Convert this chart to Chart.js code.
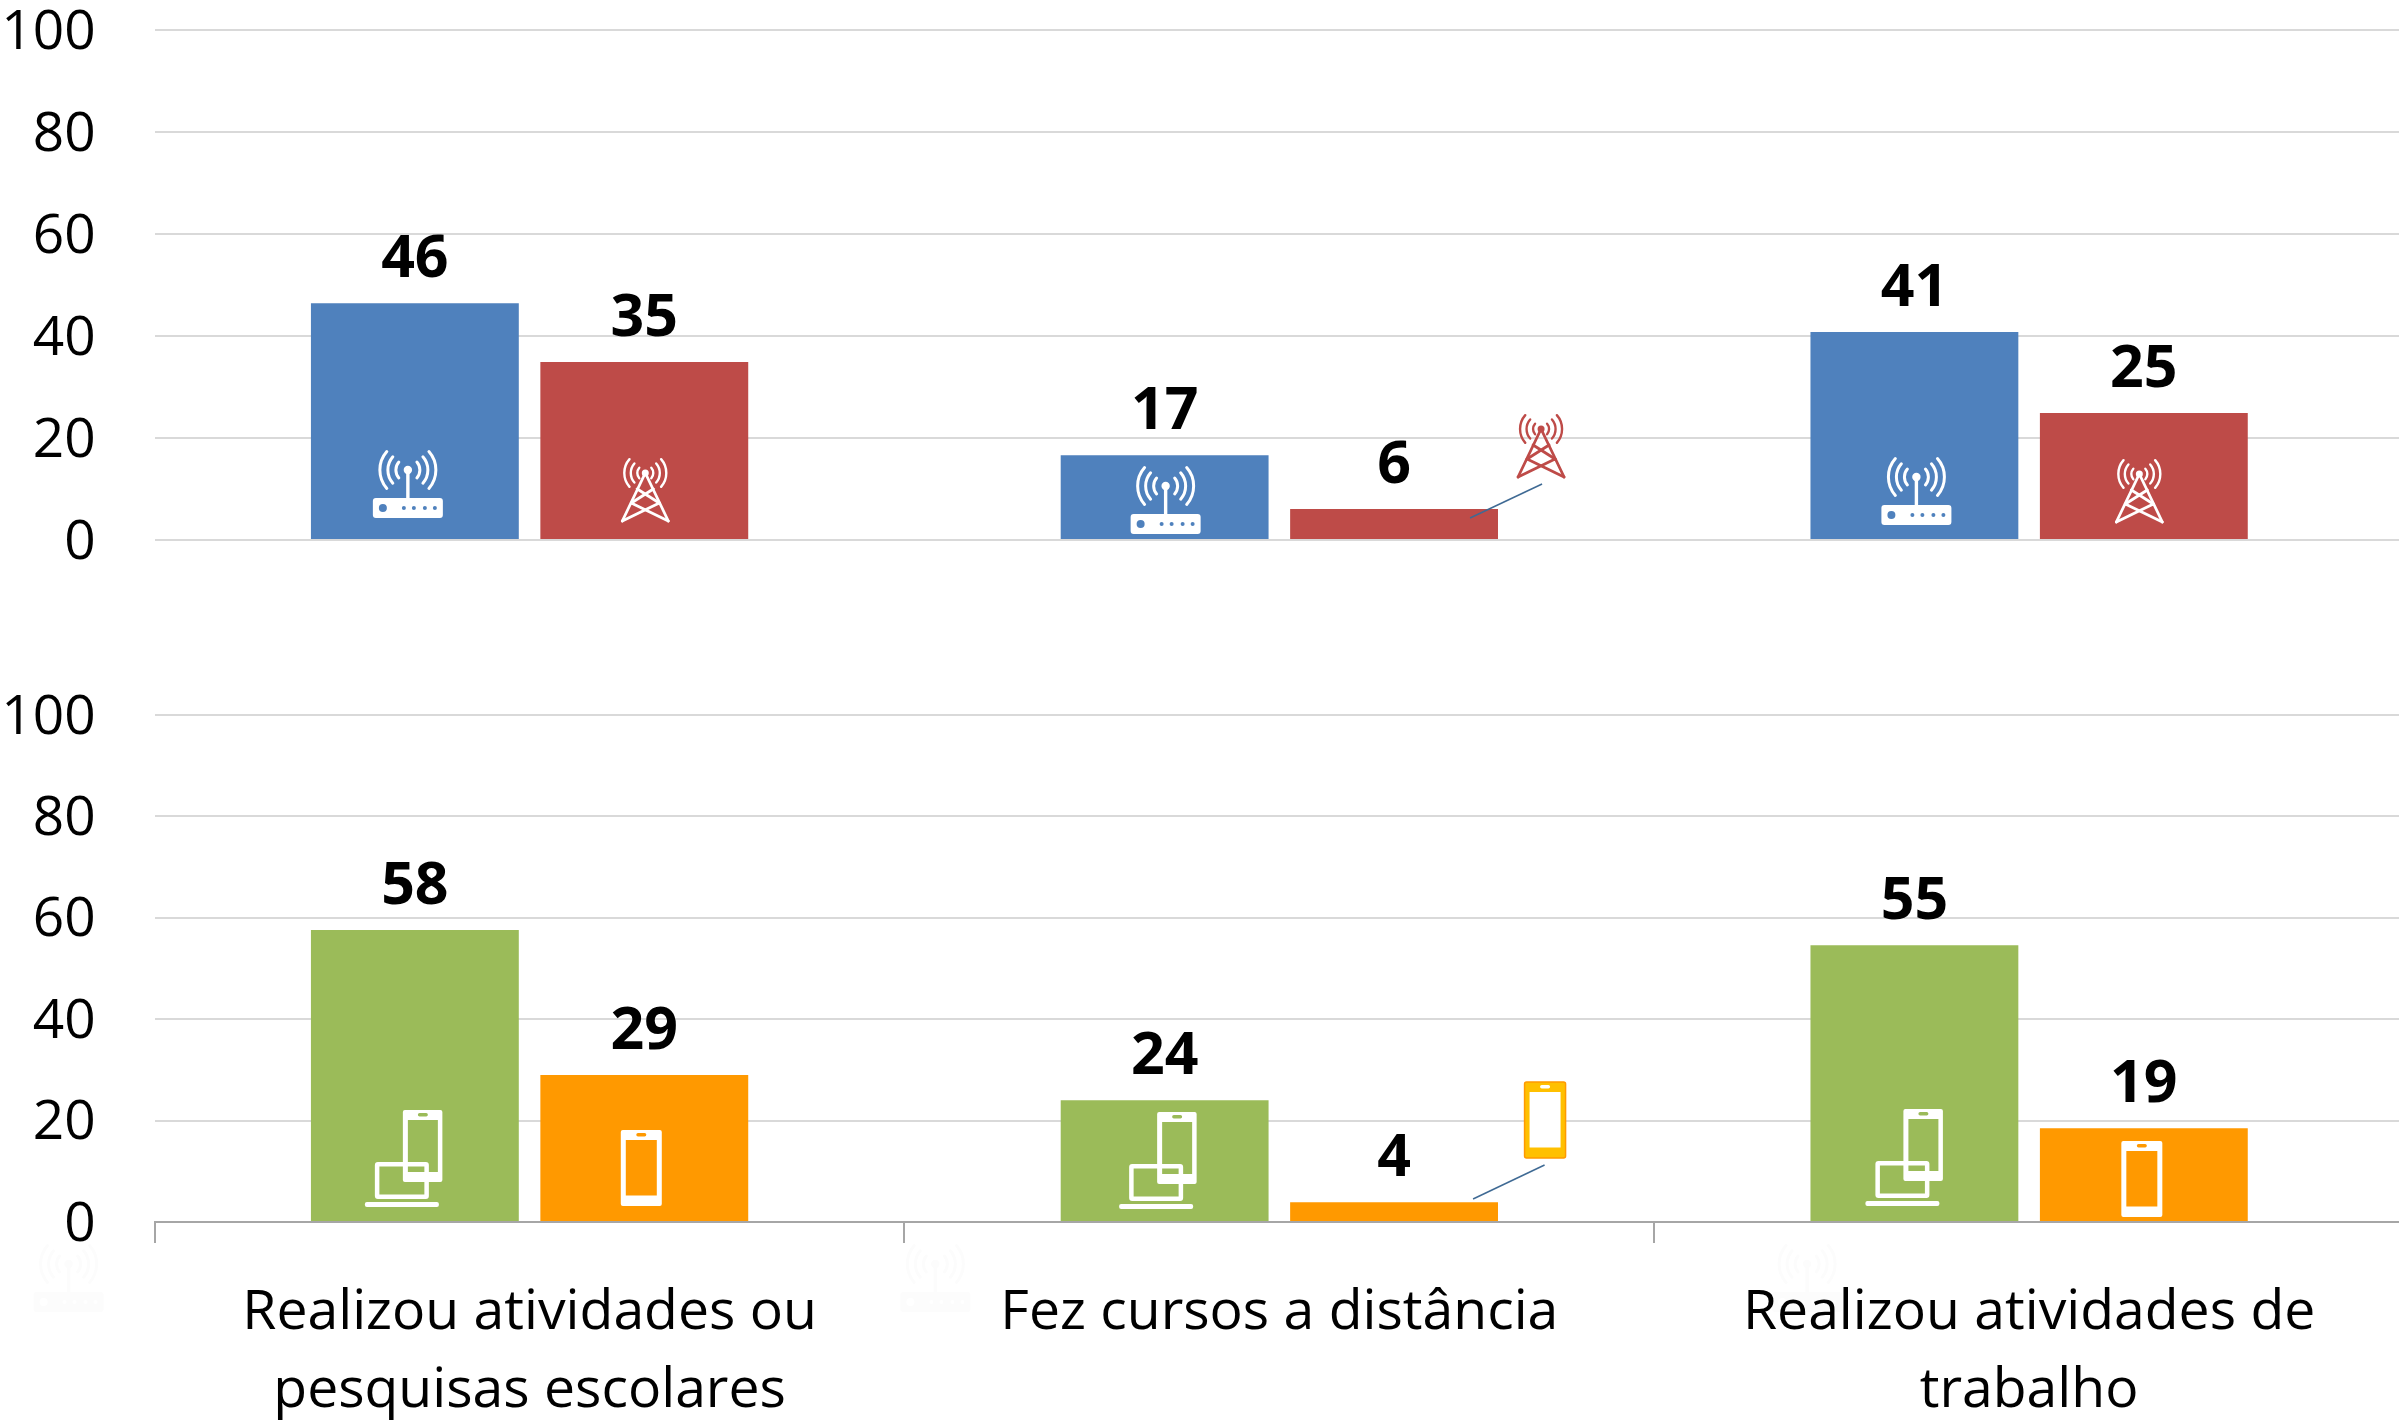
<!DOCTYPE html>
<html>
<head>
<meta charset="utf-8">
<style>
  html, body { margin: 0; padding: 0; background: #fff; overflow: hidden; width: 2399px; height: 1420px; }
  #wrap { position: relative; width: 2399px; height: 1420px; overflow: hidden; }
  canvas { position: absolute; left: 0; }
  #topChart { top: 0; }
  #bottomChart { top: 660px; }
</style>
</head>
<body>
<div id="wrap">
  <canvas id="topChart" width="2404" height="640"></canvas>
  <canvas id="bottomChart" width="2404" height="760"></canvas>
</div>
<script src="https://cdn.jsdelivr.net/npm/chart.js@4"></script>
<script>
const categories = [
  ['Realizou atividades ou', 'pesquisas escolares'],
  'Fez cursos a distância',
  ['Realizou atividades de', 'trabalho']
];
const yTicks = [0, 20, 40, 60, 80, 100];

// bar heights, printed labels kept apart
const topFirst = [46.4, 16.6, 40.8];
const topSecond = [34.9, 6.1, 24.9];
const bottomFirst = [57.6, 24, 54.6];
const bottomSecond = [29, 3.9, 18.5];

const topFirstLabels = ['46', '17', '41'];
const topSecondLabels = ['35', '6', '25'];
const bottomFirstLabels = ['58', '24', '55'];
const bottomSecondLabels = ['29', '4', '19'];

const BLUE = '#4f81bd';
const RED = '#be4b48';
const GREEN = '#9bbb59';
const ORANGE = '#ff9900';
const AMBER = '#ffc000';
const GRID = '#d9d9d9';
const AXIS = '#a6a6a6';
const LEADER = '#3f6a94';
const GHOST = '#fcfcfc';
const FONT = '"Open Sans", "Noto Sans", sans-serif';

// icon offsets from the bar's centre and the baseline: [dx, dy]
const routerSpots = [[-7, -22], [1, -6], [2, -15]];
const towerSpots = [[1, -18], [147, -62], [-4.5, -17]];
const devicesSpots = [[-11, -15], [-6.5, -13], [-10, -16]];
const phoneSpots = [[-3, -16], [151, -64], [-2, -5]];
// leader lines, from the icon down to the bar: [x0, y0, x1, y1] relative to bar centre/baseline
const topLeader = [148, -56, 76, -22];
const bottomLeader = [150.5, -57, 79, -23];
// leftover faint router images under the axis, relative to the category centre
const ghostSpots = [[-461, 90], [-344, 90], [-222, 90]];

function roundRect(ctx, x, y, w, h, r) {
  ctx.beginPath();
  ctx.roundRect(x, y, w, h, r);
}

function waves(ctx, x, y, radii, color, lw) {
  ctx.strokeStyle = color;
  ctx.lineWidth = lw;
  ctx.lineCap = 'round';
  radii.forEach(r => {
    ctx.beginPath(); ctx.arc(x, y, r, -0.72, 0.72); ctx.stroke();
    ctx.beginPath(); ctx.arc(x, y, r, Math.PI - 0.72, Math.PI + 0.72); ctx.stroke();
  });
}

function drawRouter(ctx, x, y, fg, bg) {
  ctx.save();
  ctx.translate(x, y);
  ctx.fillStyle = fg;
  roundRect(ctx, -35, -20, 70, 20, 3);
  ctx.fill();
  ctx.fillRect(-1.7, -48, 3.4, 30);
  ctx.beginPath(); ctx.arc(0, -48, 4.2, 0, Math.PI * 2); ctx.fill();
  ctx.fillStyle = bg;
  ctx.beginPath(); ctx.arc(-25, -10, 4, 0, Math.PI * 2); ctx.fill();
  [-4, 6, 17, 27].forEach(dot => {
    ctx.beginPath(); ctx.arc(dot, -10, 2, 0, Math.PI * 2); ctx.fill();
  });
  waves(ctx, 0, -48, [12, 20, 28], fg, 3);
  ctx.restore();
}

function drawTower(ctx, x, y, fg) {
  ctx.save();
  ctx.translate(x, y);
  ctx.strokeStyle = fg;
  ctx.fillStyle = fg;
  ctx.lineWidth = 2.8;
  ctx.lineCap = 'round';
  const lines = [
    [0, -49, -23, -1], [0, -49, 23, -1],
    [-23, -1, 14, -19], [23, -1, -14, -19],
    [-14, -19, 8, -33], [14, -19, -8, -33]
  ];
  lines.forEach(l => {
    ctx.beginPath(); ctx.moveTo(l[0], l[1]); ctx.lineTo(l[2], l[3]); ctx.stroke();
  });
  ctx.beginPath(); ctx.arc(0, -49, 3.5, 0, Math.PI * 2); ctx.fill();
  waves(ctx, 0, -49, [8, 14.5, 21], fg, 2.4);
  ctx.restore();
}

function drawPhone(ctx, x, y, fg, screen, edge) {
  ctx.save();
  ctx.translate(x, y);
  ctx.fillStyle = fg;
  roundRect(ctx, -20.5, -76, 41, 76, 2);
  ctx.fill();
  if (edge) {
    ctx.strokeStyle = edge;
    ctx.lineWidth = 1.5;
    ctx.stroke();
  }
  ctx.fillStyle = screen;
  ctx.fillRect(-15.5, -66, 31, 55.5);
  roundRect(ctx, -5, -73, 10, 3.5, 1.7);
  ctx.fill();
  ctx.restore();
}

function drawDevices(ctx, x, y, fg) {
  ctx.save();
  ctx.translate(x, y);
  ctx.fillStyle = fg;
  // phone, screen cut out
  ctx.beginPath();
  ctx.roundRect(-1, -97, 39.5, 72, 2);
  ctx.rect(4, -87, 30, 52);
  ctx.roundRect(14, -94, 10, 3.5, 1.7);
  ctx.fill('evenodd');
  // laptop
  ctx.beginPath();
  ctx.roundRect(-29, -45, 54, 37, 3);
  ctx.rect(-24.5, -40.5, 45, 28);
  ctx.fill('evenodd');
  ctx.beginPath();
  ctx.roundRect(-39, -5, 74, 5, 2);
  ctx.fill();
  ctx.restore();
}

function drawValueLabels(chart, labelSets) {
  const ctx = chart.ctx;
  ctx.save();
  ctx.font = 'bold 59px ' + FONT;
  ctx.fillStyle = '#000';
  ctx.textAlign = 'center';
  ctx.textBaseline = 'alphabetic';
  labelSets.forEach((labels, i) => {
    chart.getDatasetMeta(i).data.forEach((bar, j) => {
      ctx.fillText(labels[j], bar.x, bar.y - 26);
    });
  });
  ctx.restore();
}

function drawLeader(ctx, bar, base, l) {
  ctx.save();
  ctx.strokeStyle = LEADER;
  ctx.lineWidth = 1.5;
  ctx.beginPath();
  ctx.moveTo(bar.x + l[0], base + l[1]);
  ctx.lineTo(bar.x + l[2], base + l[3]);
  ctx.stroke();
  ctx.restore();
}

const topMarks = {
  id: 'topMarks',
  afterDatasetsDraw(chart) {
    const ctx = chart.ctx;
    const base = chart.scales.y.getPixelForValue(0);
    chart.getDatasetMeta(0).data.forEach((bar, i) => {
      drawRouter(ctx, bar.x + routerSpots[i][0], base + routerSpots[i][1], '#fff', BLUE);
    });
    chart.getDatasetMeta(1).data.forEach((bar, i) => {
      drawTower(ctx, bar.x + towerSpots[i][0], base + towerSpots[i][1], i === 1 ? RED : '#fff');
      if (i === 1) drawLeader(ctx, bar, base, topLeader);
    });
    drawValueLabels(chart, [topFirstLabels, topSecondLabels]);
  }
};

const bottomMarks = {
  id: 'bottomMarks',
  beforeDraw(chart) {
    // goes under the axis labels
    const base = chart.scales.y.getPixelForValue(0);
    ghostSpots.forEach((spot, i) => {
      drawRouter(chart.ctx, chart.scales.x.getPixelForValue(i) + spot[0], base + spot[1], GHOST, '#fff');
    });
  },
  afterDatasetsDraw(chart) {
    const ctx = chart.ctx;
    const base = chart.scales.y.getPixelForValue(0);
    chart.getDatasetMeta(0).data.forEach((bar, i) => {
      drawDevices(ctx, bar.x + devicesSpots[i][0], base + devicesSpots[i][1], '#fff');
    });
    chart.getDatasetMeta(1).data.forEach((bar, i) => {
      if (i === 1) {
        drawPhone(ctx, bar.x + phoneSpots[i][0], base + phoneSpots[i][1], AMBER, '#fff', ORANGE);
        drawLeader(ctx, bar, base, bottomLeader);
      } else {
        drawPhone(ctx, bar.x + phoneSpots[i][0], base + phoneSpots[i][1], '#fff', ORANGE);
      }
    });
    drawValueLabels(chart, [bottomFirstLabels, bottomSecondLabels]);
  }
};

function yScale() {
  return {
    min: 0,
    max: 100,
    afterBuildTicks(axis) { axis.ticks = yTicks.map(value => ({ value })); },
    afterFit(axis) {
      axis.width = 154.7;
      // tick padding would otherwise push the plot area in
      axis.paddingTop = 0;
      axis.paddingBottom = 0;
    },
    border: { display: false },
    grid: { color: GRID, lineWidth: 2, drawTicks: false },
    ticks: { color: '#000', padding: 59, labelOffset: 3, font: { family: FONT, size: 55, lineHeight: 1 } }
  };
}

function barData(first, second, colorA, colorB) {
  const common = { barPercentage: 0.906, categoryPercentage: 0.612, borderWidth: 0 };
  return {
    labels: categories,
    datasets: [
      Object.assign({ data: first, backgroundColor: colorA }, common),
      Object.assign({ data: second, backgroundColor: colorB }, common)
    ]
  };
}

new Chart(document.getElementById('topChart'), {
  type: 'bar',
  data: barData(topFirst, topSecond, BLUE, RED),
  plugins: [topMarks],
  options: {
    responsive: false,
    animation: false,
    layout: { padding: { top: 30, bottom: 100 } },
    plugins: { legend: { display: false }, tooltip: { enabled: false } },
    scales: { x: { display: false }, y: yScale() }
  }
});

new Chart(document.getElementById('bottomChart'), {
  type: 'bar',
  data: barData(bottomFirst, bottomSecond, GREEN, ORANGE),
  plugins: [bottomMarks],
  options: {
    responsive: false,
    animation: false,
    layout: { padding: { top: 55 } },
    plugins: { legend: { display: false }, tooltip: { enabled: false } },
    scales: {
      x: {
        afterFit(axis) { axis.height = 198; },
        border: { color: AXIS, width: 2 },
        grid: { drawOnChartArea: false, color: AXIS, lineWidth: 2, tickLength: 21 },
        ticks: {
          color: '#000',
          maxRotation: 0,
          autoSkip: false,
          padding: 31,
          font: { family: FONT, size: 55.3, lineHeight: '78px' }
        }
      },
      y: yScale()
    }
  }
});
</script>
</body>
</html>
